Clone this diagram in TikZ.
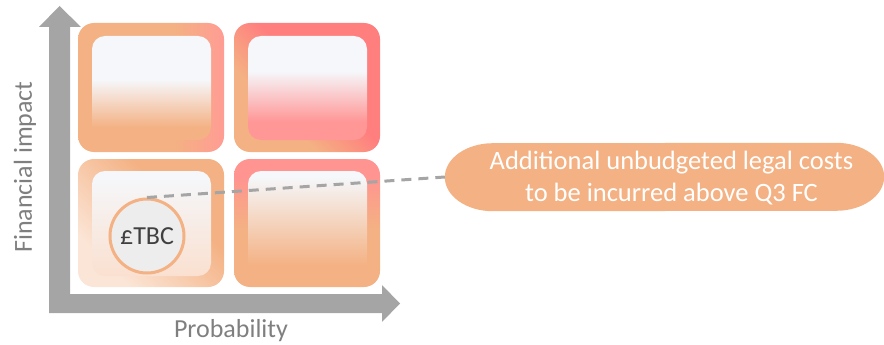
\documentclass[tikz,border=0pt]{standalone}
\usepackage{fontspec}
\setmainfont{Carlito}
\definecolor{cOr}{HTML}{F4B183}
\definecolor{cPk}{HTML}{FF9C94}
\definecolor{cRd}{HTML}{FF7F7F}
\definecolor{cWh}{HTML}{F5F7FA}
\definecolor{cLo}{HTML}{FBE5D6}
\definecolor{cPi}{HTML}{FF9797}
\definecolor{cBrT}{HTML}{FF9490}
\definecolor{cAx}{HTML}{A5A5A5}
\definecolor{cLab}{HTML}{7F7F7F}
\definecolor{cTxt}{HTML}{404040}
\definecolor{cCirc}{HTML}{EDEDED}
\definecolor{cLi}{HTML}{FAE0D0}
% outer shadings
\pgfdeclarehorizontalshading{oTL}{100bp}{color(0bp)=(cOr); color(25bp)=(cOr); color(58bp)=(cOr); color(75bp)=(cPk); color(100bp)=(cPk)}
\pgfdeclarehorizontalshading{oTR}{100bp}{color(0bp)=(cOr); color(36bp)=(cOr); color(54bp)=(cRd); color(100bp)=(cRd)}
\pgfdeclarehorizontalshading{oBL}{100bp}{color(0bp)=(cLo); color(28bp)=(cLo); color(62bp)=(cOr); color(100bp)=(cOr)}
\pgfdeclareverticalshading{oBR}{100bp}{color(0bp)=(cOr); color(25bp)=(cOr); color(48bp)=(cOr); color(68bp)=(cBrT); color(100bp)=(cBrT)}
% inner shadings
\pgfdeclareverticalshading{iTL}{100bp}{color(0bp)=(cOr); color(31bp)=(cOr); color(54bp)=(cWh); color(100bp)=(cWh)}
\pgfdeclareverticalshading{iTR}{100bp}{color(0bp)=(cPi); color(34bp)=(cPi); color(58bp)=(cWh); color(100bp)=(cWh)}
\pgfdeclareverticalshading{iBL}{100bp}{color(0bp)=(cLi); color(25bp)=(cLi); color(72bp)=(cWh); color(100bp)=(cWh)}
\pgfdeclareverticalshading{iBR}{100bp}{color(0bp)=(cOr); color(30bp)=(cOr); color(72bp)=(cWh); color(100bp)=(cWh)}
\tikzset{
  outerbox/.style={rounded corners=16pt},
  innerbox/.style={rounded corners=13pt},
  axislabel/.style={text=cLab, font=\fontsize{26}{30}\selectfont, inner sep=0pt},
  conn/.style={draw=cAx, line width=3pt, dash pattern=on 10pt off 7pt},
}
\begin{document}
\begin{tikzpicture}[x=1pt,y=-1pt]
\useasboundingbox (0,0) rectangle (884,345);
% axes
\fill[cAx] (39,27) -- (59.5,6) -- (81,27) -- (70,27) -- (70,294) -- (382,294) -- (382,285)
  -- (400,303.5) -- (382,322) -- (382,313) -- (49,313) -- (49,27) -- cycle;
% boxes
\shade[outerbox, shading=oTL] (78,23) rectangle (224,152);
\shade[innerbox, shading=iTL] (92,36) rectangle (211,140);
\shade[outerbox, shading=oTR, shading angle=45] (234,23) rectangle (380,152);
\shade[innerbox, shading=iTR] (248,36) rectangle (367,140);
\shade[outerbox, shading=oBL, shading angle=45] (78,159) rectangle (224,287);
\shade[innerbox, shading=iBL] (92,171) rectangle (211,276);
\shade[outerbox, shading=oBR] (234,159) rectangle (380,287);
\shade[innerbox, shading=iBR] (248,171) rectangle (367,276);
% labels
\node[axislabel, rotate=90] (ylab) at (25,167) {Financial impact};
\node[axislabel] (xlab) at (231,331) {Probability};
% callout
\node[rectangle, minimum width=439pt, minimum height=68pt, inner sep=0pt] (ell) at (664.5,177) {};
\fill[cOr] ([xshift=-48pt]ell.north east) arc[start angle=90, end angle=0, x radius=48pt, y radius=34pt]
  arc[start angle=0, end angle=-90, x radius=48pt, y radius=34pt]
  -- ([xshift=48pt]ell.south west) arc[start angle=270, end angle=180, x radius=48pt, y radius=34pt]
  arc[start angle=180, end angle=90, x radius=48pt, y radius=34pt] -- cycle;
\node[text=white, align=center, inner sep=0pt, font=\fontsize{26.5}{32}\selectfont] (elltext) at ([xshift=7pt,yshift=-1pt]ell.center)
  {Additional unbudgeted legal costs\\to be incurred above Q3 FC};
\node[circle, draw=cOr, line width=3pt, fill=cCirc, minimum size=74pt, inner sep=0pt,
  text=cTxt, font=\fontsize{26}{30}\selectfont] (circ) at (147,236) {£TBC};
\draw[conn] (circ.north) -- (ell.west);
\end{tikzpicture}
\end{document}
